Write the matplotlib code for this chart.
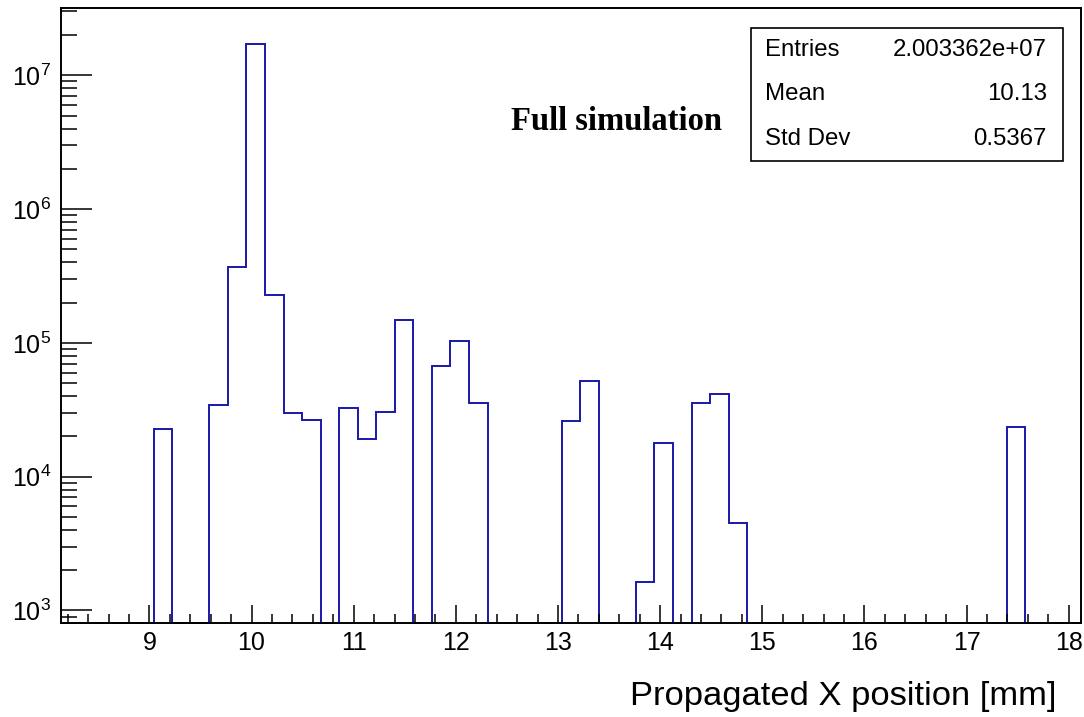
import numpy as np
import matplotlib.pyplot as plt
from matplotlib.ticker import MultipleLocator, LogLocator, NullFormatter
from matplotlib.patches import Rectangle

plt.rcParams['font.family'] = ['Liberation Sans', 'DejaVu Sans']
plt.rcParams['mathtext.fontset'] = 'custom'
plt.rcParams['mathtext.rm'] = 'Liberation Sans'
plt.rcParams['mathtext.it'] = 'Liberation Sans:italic'

# histogram binning: 55 equal bins
x_lo = 8.135
x_hi = 18.12
n_bins = 55

# filled bins (index -> counts), every other bin is empty
filled_bins = [5, 8, 9, 10, 11, 12, 13, 15, 16, 17, 18, 20, 21, 22,
               27, 28, 31, 32, 34, 35, 36, 51]
filled_counts = [2.27e4, 3.45e4, 3.67e5, 1.70e7, 2.29e5, 2.97e4, 2.64e4,
                 3.24e4, 1.92e4, 3.03e4, 1.48e5, 6.7e4, 1.04e5, 3.54e4,
                 2.61e4, 5.23e4, 1.62e3, 1.77e4, 3.54e4, 4.16e4, 4.5e3, 2.35e4]

stats_names = ['Entries', 'Mean', 'Std Dev']
stats_values = ['2.003362e+07', '10.13', '0.5367']

y_lo, y_hi = 813, 3.21e7

edges = np.linspace(x_lo, x_hi, n_bins + 1)
counts = np.zeros(n_bins)
counts[filled_bins] = filled_counts

W, H = 1084, 717
fig = plt.figure(figsize=(W / 100, H / 100), dpi=100)
ax = fig.add_axes([61 / W, 1 - 622.5 / H, (1081 - 61) / W, (622.5 - 7.5) / H])

# empty bins sit on the lower frame, like ROOT does
ax.stairs(np.maximum(counts, y_lo), edges, baseline=None,
          color='#1818a8', lw=1.4, clip_on=False)

ax.set_yscale('log')
ax.set_xlim(x_lo, x_hi)
ax.set_ylim(y_lo, y_hi)

ax.xaxis.set_major_locator(MultipleLocator(1))
ax.xaxis.set_minor_locator(MultipleLocator(0.2))
ax.yaxis.set_major_locator(LogLocator(base=10))
ax.yaxis.set_minor_locator(LogLocator(base=10, subs=np.arange(2, 10)))
ax.yaxis.set_minor_formatter(NullFormatter())

ax.tick_params(axis='x', which='major', direction='in', length=13.2, width=1.1,
               labelsize=18, pad=6, top=False)
ax.tick_params(axis='x', which='minor', direction='in', length=6.7, width=1.1, top=False)
ax.tick_params(axis='y', which='major', direction='in', length=22, width=1.1,
               labelsize=18, pad=7, right=False)
ax.tick_params(axis='y', which='minor', direction='in', length=11.3, width=1.1, right=False)
for s in ax.spines.values():
    s.set_linewidth(1.4)

fig.text(1056 / W, 1 - 705 / H, 'Propagated X position [mm]', fontsize=24.8,
         ha='right', va='baseline')

fig.text(722 / W, 1 - 130 / H, 'Full simulation', fontsize=23.5,
         family=['Liberation Serif', 'DejaVu Serif'], weight='bold',
         ha='right', va='baseline')

# stats box
bx0, bx1, by0, by1 = 751, 1063, 28, 161
fig.patches.append(Rectangle((bx0 / W, 1 - by1 / H), (bx1 - bx0) / W, (by1 - by0) / H,
                             transform=fig.transFigure, facecolor='white',
                             edgecolor='black', lw=1.2, zorder=5))
row_h = (by1 - by0) / len(stats_names)
for i, (name, val) in enumerate(zip(stats_names, stats_values)):
    yc = 1 - (by0 + row_h * (i + 0.5)) / H
    fig.text(765 / W, yc, name, fontsize=17.3, ha='left', va='center', zorder=6)
    fig.text(1047 / W, yc, val, fontsize=17.3, ha='right', va='center', zorder=6)

fig.savefig('out.png', dpi=100)
